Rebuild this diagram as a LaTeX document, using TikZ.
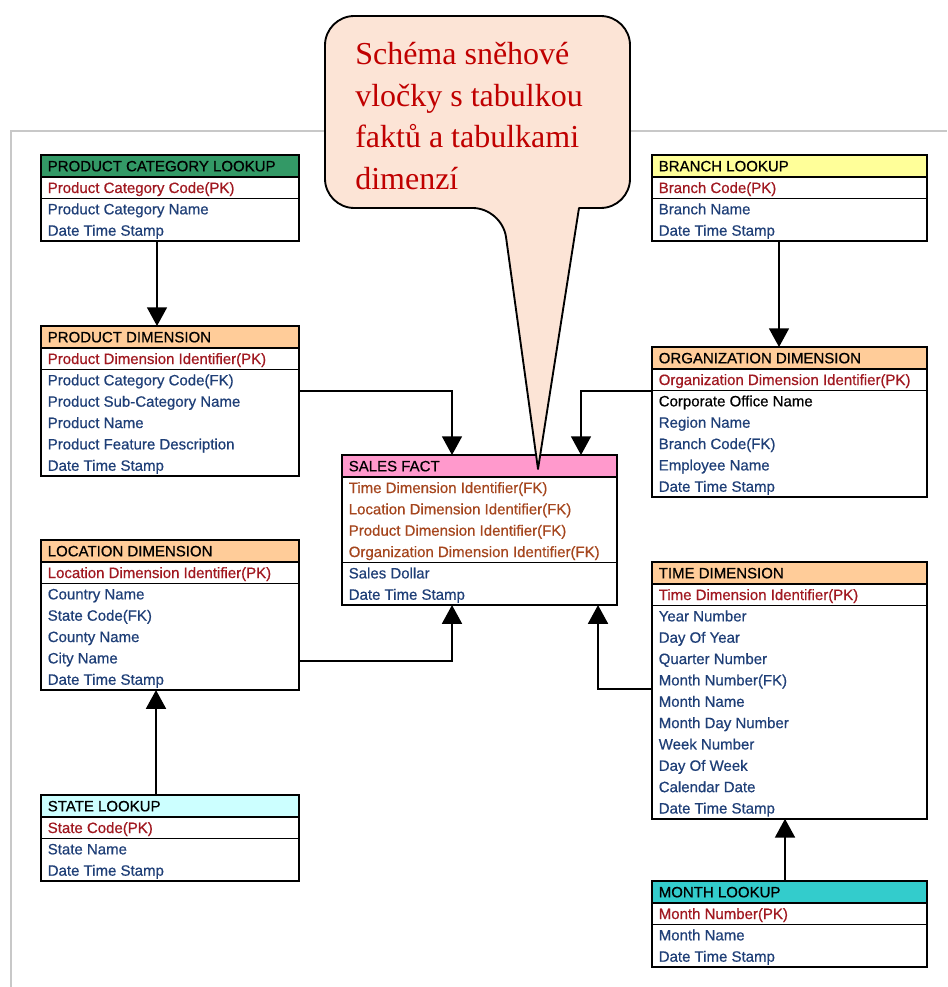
\documentclass[tikz,border=0pt]{standalone}
\usepackage{fontspec}
\setmainfont{Liberation Serif}
\newfontfamily\erfont[BoldFont=Liberation Sans, BoldFeatures={FakeBold=0.6}]{Liberation Sans}
\usetikzlibrary{arrows.meta,calc}

\definecolor{hdrgreen}{RGB}{51,153,102}
\definecolor{hdrorange}{RGB}{255,204,153}
\definecolor{hdrcyan}{RGB}{204,255,255}
\definecolor{hdryellow}{RGB}{255,255,153}
\definecolor{hdrpink}{RGB}{255,153,204}
\definecolor{hdrteal}{RGB}{51,204,204}
\definecolor{pkred}{RGB}{160,24,32}
\definecolor{fkbrown}{RGB}{165,70,30}
\definecolor{attr}{RGB}{31,63,119}
\definecolor{notefill}{RGB}{252,228,214}
\definecolor{notetext}{RGB}{192,0,0}
\definecolor{framegray}{RGB}{200,200,200}

\def\rowh{21.35}

% ER table: #1 name, #2 left, #3 top, #4 width, #5 header fill,
% #6 title, #7 key rows (colour/text), #8 attribute rows (colour/text)
\newcommand\ertable[8]{%
  \foreach [count=\n] \c/\t in {#7} {\xdef\ertnkey{\n}}%
  \foreach [count=\n] \c/\t in {#8} {\xdef\ertnattr{\n}}%
  \pgfmathsetmacro\ertysep{#3+22+\ertnkey*\rowh}%
  \pgfmathsetmacro\ertybot{\ertysep+\ertnattr*\rowh}%
  \fill[#5] ({#2},{#3}) rectangle ++(#4,22);
  \draw[rule] ({#2},{#3+22}) -- ++(#4,0);
  \draw[rule] ({#2},{\ertysep}) -- ++(#4,0);
  \node[tbl, anchor=north west, minimum width=#4*0.75pt,
        minimum height={(\ertybot-#3)*0.75pt}] (#1) at ({#2},{#3}) {};
  \node[celltext, text=black] (#1-title) at ({#2+6.5},{#3+11}) {#6};
  \foreach [count=\i] \c/\t in {#7}
    \node[celltext, text=\c] (#1-k\i) at ({#2+6.5},{#3+22+(\i-0.5)*\rowh}) {\t};
  \foreach [count=\i] \c/\t in {#8}
    \node[celltext, text=\c] (#1-a\i) at ({#2+6.5},{\ertysep+(\i-0.5)*\rowh}) {\t};
}

\begin{document}
\begin{tikzpicture}[x=0.75pt,y=-0.75pt,
  tbl/.style={draw=black, line width=1.2pt, inner sep=0pt, outer sep=0pt},
  rule/.style={draw=black, line width=1.1pt},
  celltext/.style={anchor=west, inner sep=0pt,
    font={\erfont\bfseries\fontsize{11.25pt}{13pt}\selectfont},
    text height=8pt, text depth=0pt},
  conn/.style={draw=black, line width=1.1pt, -{Triangle[width=15pt,length=14pt]}},
  callout/.style={draw=black, line width=1.4pt, fill=notefill, line join=round},
  notestyle/.style={anchor=north west, align=left, inner sep=0pt, text=notetext,
    font={\fontsize{24pt}{31.3pt}\selectfont}},
  framestyle/.style={draw=framegray, line width=1.5pt}]

\useasboundingbox (0,0) rectangle (947,987);

% outer panel edge
\draw[framestyle] (11,987) -- (11,131) -- (947,131);

% tables
\ertable{pcl}{41}{155}{258}{hdrgreen}{PRODUCT CATEGORY LOOKUP}
  {pkred/Product Category Code(PK)}
  {attr/Product Category Name, attr/Date Time Stamp}
\ertable{pd}{41}{326}{258}{hdrorange}{PRODUCT DIMENSION}
  {pkred/Product Dimension Identifier(PK)}
  {attr/Product Category Code(FK), attr/Product Sub-Category Name,
   attr/Product Name, attr/Product Feature Description, attr/Date Time Stamp}
\ertable{loc}{41}{540}{258}{hdrorange}{LOCATION DIMENSION}
  {pkred/Location Dimension Identifier(PK)}
  {attr/Country Name, attr/State Code(FK), attr/County Name,
   attr/City Name, attr/Date Time Stamp}
\ertable{state}{41}{795}{258}{hdrcyan}{STATE LOOKUP}
  {pkred/State Code(PK)}
  {attr/State Name, attr/Date Time Stamp}
\ertable{sf}{342}{455}{275}{hdrpink}{SALES FACT}
  {fkbrown/Time Dimension Identifier(FK), fkbrown/Location Dimension Identifier(FK),
   fkbrown/Product Dimension Identifier(FK), fkbrown/Organization Dimension Identifier(FK)}
  {attr/Sales Dollar, attr/Date Time Stamp}
\ertable{branch}{652}{155}{275}{hdryellow}{BRANCH LOOKUP}
  {pkred/Branch Code(PK)}
  {attr/Branch Name, attr/Date Time Stamp}
\ertable{org}{652}{347}{275}{hdrorange}{ORGANIZATION DIMENSION}
  {pkred/Organization Dimension Identifier(PK)}
  {black/Corporate Office Name, attr/Region Name, attr/Branch Code(FK),
   attr/Employee Name, attr/Date Time Stamp}
\ertable{time}{652}{562}{275}{hdrorange}{TIME DIMENSION}
  {pkred/Time Dimension Identifier(PK)}
  {attr/Year Number, attr/Day Of Year, attr/Quarter Number, attr/Month Number(FK),
   attr/Month Name, attr/Month Day Number, attr/Week Number, attr/Day Of Week,
   attr/Calendar Date, attr/Date Time Stamp}
\ertable{month}{652}{881}{275}{hdrteal}{MONTH LOOKUP}
  {pkred/Month Number(PK)}
  {attr/Month Name, attr/Date Time Stamp}

% relationships
\draw[conn] ($(pcl.south west)+(116,0)$) -- ($(pd.north west)+(116,0)$);
\draw[conn] ($(branch.south west)+(127,0)$) -- ($(org.north west)+(127,0)$);
\draw[conn] ($(pd.north east)+(0,65)$) -| ($(sf.north west)+(110,0)$);
\draw[conn] ($(org.north west)+(0,44)$) -| ($(sf.north west)+(239,0)$);
\draw[conn] ($(loc.north east)+(0,121)$) -| ($(sf.south west)+(110,0)$);
\draw[conn] ($(time.north west)+(0,127)$) -| ($(sf.south west)+(256,0)$);
\draw[conn] ($(state.north west)+(115,0)$) -- ($(loc.south west)+(115,0)$);
\draw[conn] ($(month.north west)+(133,0)$) -- ($(time.south west)+(133,0)$);

% speech bubble
\draw[callout] (579,208) [rounded corners=22pt] -- (630,208) -- (630,16)
  -- (325,16) -- (325,208) -- (502,208) [sharp corners] -- (538,469) -- cycle;
\node[notestyle] (note) at (355,42)
  {Schéma sněhové\\vločky s tabulkou\\faktů a tabulkami\\dimenzí};

\end{tikzpicture}
\end{document}
